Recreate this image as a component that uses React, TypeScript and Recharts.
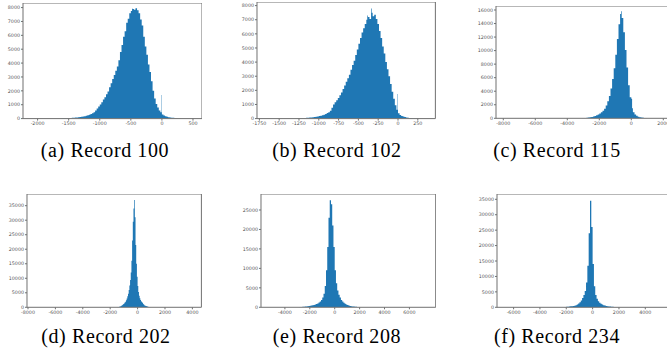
import { AreaChart, Area, XAxis, YAxis, ReferenceLine } from "recharts";

// histogram counts: bin start, bin width, counts per bin, plus a few narrow spikes [x, width, count]
const rec100Start = -1650;
const rec100Width = 25;
const rec100Counts = [
  15, 25, 35, 40, 45, 45, 50, 50, 55, 65, 75, 85, 95, 110, 130, 150, 175, 205, 240, 280,
  330, 390, 460, 580, 720, 880, 1020, 1180, 1370, 1530, 1750, 1950, 2250, 2550, 2850, 3150, 3450, 3750, 4200, 4800,
  5300, 5900, 6300, 6900, 7200, 7600, 7750, 7900, 7850, 7950, 7800, 7600, 7150, 6700, 5900, 5200, 4600, 3900, 3350, 2700,
  2000, 1450, 1050, 800, 580, 450, 300, 220, 170, 140, 100, 80, 65, 55, 45, 35, 28, 20, 12, 6,
];
const rec100Spikes = [[-480, 8, 7950], [-6, 12, 1700]];

const rec102Start = -1300;
const rec102Width = 20;
const rec102Counts = [
  20, 25, 30, 35, 40, 45, 50, 55, 65, 75, 85, 100, 115, 130, 150, 175, 205, 240, 280, 330,
  390, 450, 560, 760, 1000, 1150, 1300, 1450, 1650, 1850, 2100, 2350, 2600, 2850, 3100, 3450, 3800, 4100, 4500, 4900,
  5300, 5700, 6100, 6400, 6700, 7000, 7200, 7050, 7500, 7250, 7350, 7050, 6700, 6200, 5700, 5100, 4600, 4000, 3500, 3000,
  2450, 1900, 1400, 950, 620, 380, 250, 190, 140, 105, 80, 65, 50, 40, 32, 25, 18, 12, 8, 4,
];
const rec102Spikes = [[-388, 8, 7300], [-338, 8, 7800], [-5, 10, 1750]];

const rec115Start = -3200;
const rec115Width = 100;
const rec115Counts = [
  20, 30, 40, 50, 70, 100, 140, 190, 260, 340, 440, 560, 700, 880, 1100, 1400, 1900, 2500, 3300, 4400,
  5800, 7400, 9400, 11700, 13900, 15400, 14800, 12700, 10100, 7500, 4900, 3100, 1500, 900, 550, 360, 240,
  160, 110, 70, 45, 30, 15,
];
const rec115Spikes = [[-640, 40, 15800], [0, 50, 2900]];

const rec202Start = -1500;
const rec202Width = 50;
const rec202Counts = [
  60, 90, 130, 190, 270, 380, 520, 680, 880, 1100, 1350, 1650, 1950, 2400, 3000, 3800, 4700, 6000, 7500, 9400,
  12000, 16000, 23000, 29500, 34000, 37000, 31000, 21500, 15000, 10500, 7300, 5300, 4000, 3100, 2500, 2100,
  1800, 1450, 1100, 850, 650, 520, 420, 330, 250, 190, 140, 100, 70, 40,
];

const rec208Start = -2900;
const rec208Width = 100;
const rec208Counts = [
  50, 70, 90, 110, 140, 180, 220, 260, 310, 370, 440, 520, 600, 700, 820, 980, 1200, 1500, 1900, 2500,
  3500, 5500, 9500, 15500, 23000, 27500, 26500, 21000, 15500, 9500, 6200, 4300, 3200, 2500, 1900, 1500,
  1150, 900, 720, 570, 450, 360, 290, 230, 180, 140, 110, 80, 50,
];

const rec234Start = -2300;
const rec234Width = 100;
const rec234Counts = [
  50, 70, 100, 140, 190, 240, 300, 370, 450, 540, 680, 900, 1200, 1600, 2200, 3000, 4000, 5300, 8000, 13500,
  24000, 34500, 26000, 14000, 6800, 4000, 2800, 2000, 1500, 1150, 900, 700, 550, 440, 360, 290, 240, 200,
  160, 120, 90, 60,
];

// tick labels
const ticks100X = [-2000, -1500, -1000, -500, 0, 500];
const ticks102X = [-1750, -1500, -1250, -1000, -750, -500, -250, 0, 250];
const ticks115X = [-8000, -6000, -4000, -2000, 0, 2000];
const ticks202X = [-8000, -6000, -4000, -2000, 0, 2000, 4000];
const ticks208X = [-4000, -2000, 0, 2000, 4000, 6000];
const ticks234X = [-6000, -4000, -2000, 0, 2000, 4000];
const ticks8k = [0, 1000, 2000, 3000, 4000, 5000, 6000, 7000, 8000];
const ticks16k = [0, 2000, 4000, 6000, 8000, 10000, 12000, 14000, 16000];
const ticks35k = [0, 5000, 10000, 15000, 20000, 25000, 30000, 35000];
const ticks25k = [0, 5000, 10000, 15000, 20000, 25000];

const captions = ["(a) Record 100", "(b) Record 102", "(c) Record 115", "(d) Record 202", "(e) Record 208", "(f) Record 234"];

const BLUE = "#1f77b4";
const SPINE = "#6f6f6f";
const TICK = { fontSize: 4.8, fill: "#555", fontFamily: "DejaVu Sans" };

function buildHist(start: number, width: number, counts: number[], spikes: number[][] = []) {
  const valueAt = (x: number) => {
    const i = Math.floor((x - start) / width);
    return i >= 0 && i < counts.length ? counts[i] : 0;
  };
  const pts = counts.map((c, i) => ({ x: start + i * width, y: c }));
  pts.push({ x: start + counts.length * width, y: 0 });
  spikes.forEach(([sx, sw, sc]) => {
    pts.push({ x: sx, y: sc });
    pts.push({ x: sx + sw, y: valueAt(sx + sw) });
  });
  return pts.sort((a, b) => a.x - b.x);
}

interface PanelProps {
  left: number;
  top: number;
  right: number;
  bottom: number;
  xDomain: [number, number];
  yDomain: [number, number];
  xTicks: number[];
  yTicks: number[];
  data: { x: number; y: number }[];
}

function Panel({ left, top, right, bottom, xDomain, yDomain, xTicks, yTicks, data }: PanelProps) {
  const yw = 30;
  const xh = 14;
  const w = right - left;
  const h = bottom - top;
  return (
    <div style={{ position: "absolute", left: left - yw, top }}>
      <AreaChart width={w + yw} height={h + xh} data={data} margin={{ top: 0, right: 0, bottom: 0, left: 0 }}>
        <XAxis
          type="number"
          dataKey="x"
          domain={xDomain}
          ticks={xTicks}
          interval={0}
          allowDataOverflow
          height={xh}
          tickSize={2}
          tickMargin={1}
          tick={TICK}
          stroke={SPINE}
        />
        <YAxis
          type="number"
          domain={yDomain}
          ticks={yTicks}
          interval={0}
          allowDataOverflow
          width={yw}
          tickSize={2}
          tickMargin={1}
          tick={TICK}
          stroke={SPINE}
        />
        <Area
          type="stepAfter"
          dataKey="y"
          stroke="none"
          fill={BLUE}
          fillOpacity={1}
          isAnimationActive={false}
        />
        <ReferenceLine x={xDomain[1]} stroke={SPINE} />
        <ReferenceLine y={yDomain[1]} stroke={SPINE} />
      </AreaChart>
    </div>
  );
}

function Caption({ text, cx, baseline }: { text: string; cx: number; baseline: number }) {
  return (
    <div
      style={{
        position: "absolute",
        left: cx - 110,
        top: baseline - 16.75,
        width: 220,
        textAlign: "center",
        fontFamily: "'Liberation Serif', 'Times New Roman', Times, serif",
        fontSize: 20,
        lineHeight: "20px",
        letterSpacing: 0.6,
        color: "#000",
        whiteSpace: "nowrap",
      }}
    >
      {text}
    </div>
  );
}

export default function App() {
  return (
    <div style={{ position: "fixed", left: 0, top: 0, width: 667, height: 354, overflow: "hidden", background: "#fff" }}>
      <Panel
        left={22.7} top={2.7} right={201.7} bottom={118.3}
        xDomain={[-2235, 645]} yDomain={[0, 8330]}
        xTicks={ticks100X} yTicks={ticks8k}
        data={buildHist(rec100Start, rec100Width, rec100Counts, rec100Spikes)}
      />
      <Panel
        left={257.3} top={1.7} right={435.7} bottom={118.3}
        xDomain={[-1780, 472]} yDomain={[0, 8255]}
        xTicks={ticks102X} yTicks={ticks8k}
        data={buildHist(rec102Start, rec102Width, rec102Counts, rec102Spikes)}
      />
      <Panel
        left={496} top={6} right={669} bottom={118.3}
        xDomain={[-8456, 2356]} yDomain={[0, 16590]}
        xTicks={ticks115X} yTicks={ticks16k}
        data={buildHist(rec115Start, rec115Width, rec115Counts, rec115Spikes)}
      />
      <Panel
        left={27.3} top={194} right={201.7} bottom={307.3}
        xDomain={[-8073, 4657]} yDomain={[0, 39030]}
        xTicks={ticks202X} yTicks={ticks35k}
        data={buildHist(rec202Start, rec202Width, rec202Counts)}
      />
      <Panel
        left={261} top={194} right={435.7} bottom={307.3}
        xDomain={[-5920, 8110]} yDomain={[0, 29110]}
        xTicks={ticks208X} yTicks={ticks25k}
        data={buildHist(rec208Start, rec208Width, rec208Counts)}
      />
      <Panel
        left={496.7} top={194} right={669} bottom={307.3}
        xDomain={[-7260, 5822]} yDomain={[0, 36720]}
        xTicks={ticks234X} yTicks={ticks35k}
        data={buildHist(rec234Start, rec234Width, rec234Counts)}
      />
      <Caption text={captions[0]} cx={105} baseline={157} />
      <Caption text={captions[1]} cx={337} baseline={157} />
      <Caption text={captions[2]} cx={557} baseline={157} />
      <Caption text={captions[3]} cx={106} baseline={343} />
      <Caption text={captions[4]} cx={337} baseline={343} />
      <Caption text={captions[5]} cx={557} baseline={343} />
    </div>
  );
}
